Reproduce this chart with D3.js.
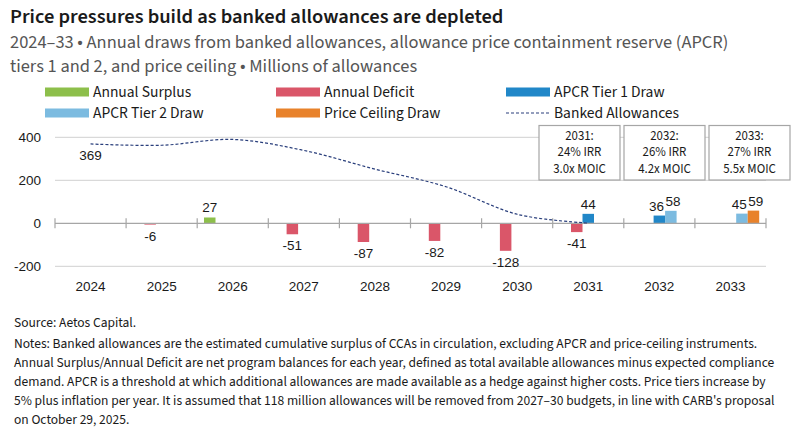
<!DOCTYPE html>
<html>
<head>
<meta charset="utf-8">
<script src="https://cdn.jsdelivr.net/npm/d3@7"></script>
<style>
  body { margin: 0; background: #fff; }
  svg { display: block; }
  .txt { font-family: "Source Sans Pro", "Source Sans 3", Lato, sans-serif; }
  .num { font-family: "Liberation Sans", Arial, sans-serif; }
</style>
</head>
<body>
<svg id="chart" width="804" height="430"></svg>
<script>
// ---- data ----
var years = ['2024', '2025', '2026', '2027', '2028', '2029', '2030', '2031', '2032', '2033'];
var surplus = [null, null, 27, null, null, null, null, null, null, null];
var deficit = [null, -6, null, -51, -87, -82, -128, -41, null, null];
var tier1 = [null, null, null, null, null, null, null, 44, 36, null];
var tier2 = [null, null, null, null, null, null, null, null, 58, 45];
var ceiling = [null, null, null, null, null, null, null, null, null, 59];
var banked = [369, 363, 390, 339, 252, 170, 42, 1];
var yTicks = [-200, 0, 200, 400];

var seriesNames = ['Annual Surplus', 'Annual Deficit', 'APCR Tier 1 Draw', 'APCR Tier 2 Draw', 'Price Ceiling Draw'];
var seriesValues = [surplus, deficit, tier1, tier2, ceiling];
var seriesColors = ['#8dbf4b', '#da5669', '#2187c8', '#7cbbe0', '#e8822b'];
var lineName = 'Banked Allowances';
var lineColor = '#2a3f7c';

var boxes = [
    ['2031:', '24% IRR', '3.0x MOIC'],
    ['2032:', '26% IRR', '4.2x MOIC'],
    ['2033:', '27% IRR', '5.5x MOIC']
];

var title = 'Price pressures build as banked allowances are depleted';
var subtitle = [
    '2024\u201333 \u2022 Annual draws from banked allowances, allowance price containment reserve (APCR)',
    'tiers 1 and 2, and price ceiling \u2022 Millions of allowances'
];
var source = 'Source: Aetos Capital.';
var notes = [
    'Notes: Banked allowances are the estimated cumulative surplus of CCAs in circulation, excluding APCR and price-ceiling instruments.',
    'Annual Surplus/Annual Deficit are net program balances for each year, defined as total available allowances minus expected compliance',
    'demand. APCR is a threshold at which additional allowances are made available as a hedge against higher costs. Price tiers increase by',
    '5% plus inflation per year. It is assumed that 118 million allowances will be removed from 2027\u201330 budgets, in line with CARB\'s proposal',
    'on October 29, 2025.'
];

// ---- layout ----
var svg = d3.select('#chart');
var plotL = 55, plotR = 766, plotT = 137.3, plotB = 266.3;

var x = d3.scaleBand().domain(years).range([plotL, plotR]);
var x1 = d3.scaleBand().domain(seriesNames).range([6.8, x.bandwidth() - 6.8]);
var y = d3.scaleLinear().domain([-200, 400]).range([plotB, plotT]);

// header
svg.append('text').attr('class', 'txt')
    .attr('x', 10).attr('y', 23)
    .attr('font-size', 20.5).attr('font-weight', 600).attr('fill', '#1a1a1a')
    .text(title);

svg.selectAll('.sub').data(subtitle).enter().append('text')
    .attr('class', 'txt sub')
    .attr('x', 10).attr('y', function(d, i){ return 48.3 + i * 23.4; })
    .attr('font-size', 18.4).attr('fill', '#555')
    .text(function(d){ return d; });

// legend
var legCols = [45, 276, 506], legRows = [92, 113];
var legItems = seriesNames.concat([lineName]);
var leg = svg.selectAll('.leg').data(legItems).enter().append('g')
    .attr('class', 'leg')
    .attr('transform', function(d, i){
        return 'translate(' + legCols[i % 3] + ',' + legRows[Math.floor(i / 3)] + ')';
    });
leg.each(function(d, i){
    var g = d3.select(this);
    if(i < seriesNames.length)
    {
        g.append('rect').attr('x', 0).attr('y', -4.5).attr('width', 44).attr('height', 9)
            .attr('fill', seriesColors[i]);
    }
    else
    {
        g.append('line').attr('x1', 0).attr('x2', 44).attr('y1', 0).attr('y2', 0)
            .attr('stroke', lineColor).attr('stroke-width', 1.2).attr('stroke-dasharray', '3,2');
    }
    g.append('text').attr('class', 'txt')
        .attr('x', 48).attr('y', 5)
        .attr('font-size', 15.5).attr('fill', '#1a1a1a')
        .text(d);
});

// gridlines
svg.selectAll('.grid').data(yTicks.filter(function(t){ return t !== 0; })).enter().append('line')
    .attr('x1', plotL).attr('x2', plotR)
    .attr('y1', function(d){ return y(d); }).attr('y2', function(d){ return y(d); })
    .attr('stroke', '#d0d0d0').attr('stroke-width', 1);

// y labels
svg.selectAll('.ylab').data(yTicks).enter().append('text')
    .attr('class', 'num')
    .attr('x', 41).attr('y', function(d){ return y(d); }).attr('dy', '0.36em')
    .attr('text-anchor', 'end').attr('font-size', 13.5).attr('fill', '#1a1a1a')
    .text(function(d){ return String(d); });

// annotation boxes
var boxLeft = 539, boxW = 81, boxGap = 4, boxTop = 125.5, boxH = 54.5;
var bx = svg.selectAll('.box').data(boxes).enter().append('g')
    .attr('transform', function(d, i){ return 'translate(' + (boxLeft + i * (boxW + boxGap)) + ',' + boxTop + ')'; });
bx.append('rect').attr('width', boxW).attr('height', boxH)
    .attr('fill', '#fff').attr('stroke', '#a6a6a6').attr('stroke-width', 1.2);
bx.selectAll('text').data(function(d){ return d; }).enter().append('text')
    .attr('class', 'txt')
    .attr('x', boxW / 2).attr('y', function(d, i){ return 14.5 + i * 16.3; })
    .attr('text-anchor', 'middle').attr('font-size', 12.8).attr('fill', '#1a1a1a')
    .text(function(d){ return d; });

// bars
var groups = svg.selectAll('.yr').data(years).enter().append('g')
    .attr('transform', function(d){ return 'translate(' + x(d) + ',0)'; });
var cells = function(d, i){
    var list = seriesNames.map(function(s, k){ return {s: s, k: k, v: seriesValues[k][i]}; })
        .filter(function(o){ return o.v !== null; });
    // neighbouring positive bars: push their labels apart at the shared edge
    list.forEach(function(o, j){
        var prev = list[j - 1], next = list[j + 1];
        o.side = 'mid';
        if(o.v > 0 && next && next.v > 0 && next.k === o.k + 1) o.side = 'left';
        if(o.v > 0 && prev && prev.v > 0 && prev.k === o.k - 1) o.side = 'right';
    });
    return list;
};
groups.selectAll('rect').data(cells)
    .enter().append('rect')
    .attr('x', function(o){ return x1(o.s); })
    .attr('width', x1.bandwidth())
    .attr('y', function(o){ return y(Math.max(0, o.v)); })
    .attr('height', function(o){ return Math.abs(y(o.v) - y(0)); })
    .attr('fill', function(o){ return seriesColors[o.k]; });
groups.selectAll('.vlab').data(cells)
    .enter().append('text')
    .attr('class', 'num')
    .attr('x', function(o){
        if(o.side === 'left') return x1(o.s) + x1.bandwidth() - 1;
        if(o.side === 'right') return x1(o.s) + 0.5;
        return x1(o.s) + x1.bandwidth() / 2;
    })
    .attr('y', function(o){ return o.v >= 0 ? y(o.v) - 5 : y(o.v) + 16; })
    .attr('text-anchor', function(o){
        return o.side === 'left' ? 'end' : (o.side === 'right' ? 'start' : 'middle');
    })
    .attr('font-size', 13.5).attr('fill', '#1a1a1a')
    .text(function(o){ return String(o.v); });

// zero axis with ticks at band edges
svg.append('line').attr('x1', plotL).attr('x2', plotR).attr('y1', y(0)).attr('y2', y(0))
    .attr('stroke', '#a6a6a6').attr('stroke-width', 1.2);
var edges = years.map(function(d){ return x(d); }).concat([plotR]);
svg.selectAll('.tk').data(edges).enter().append('line')
    .attr('x1', function(d){ return d; }).attr('x2', function(d){ return d; })
    .attr('y1', y(0) - 5).attr('y2', y(0) + 5)
    .attr('stroke', '#a6a6a6').attr('stroke-width', 1.2);

// x labels
svg.selectAll('.xlab').data(years).enter().append('text')
    .attr('class', 'num')
    .attr('x', function(d){ return x(d) + x.bandwidth() / 2; }).attr('y', 291)
    .attr('text-anchor', 'middle').attr('font-size', 13.5).attr('fill', '#1a1a1a')
    .text(function(d){ return d; });

// banked allowances line
var line = d3.line()
    .x(function(d, i){ return x(years[i]) + x.bandwidth() / 2; })
    .y(function(d){ return y(d); })
    .curve(d3.curveCatmullRom.alpha(0));
svg.append('path').datum(banked)
    .attr('d', line).attr('fill', 'none')
    .attr('stroke', lineColor).attr('stroke-width', 1.2).attr('stroke-dasharray', '3,2');
svg.append('text').attr('class', 'num')
    .attr('x', x(years[0]) + x.bandwidth() / 2).attr('y', y(banked[0]) + 16)
    .attr('text-anchor', 'middle').attr('font-size', 13.5).attr('fill', '#1a1a1a')
    .text(String(banked[0]));

// footer
svg.append('text').attr('class', 'txt')
    .attr('x', 14).attr('y', 327).attr('font-size', 13.5).attr('fill', '#1a1a1a')
    .text(source);
svg.selectAll('.note').data(notes).enter().append('text')
    .attr('class', 'txt note')
    .attr('x', 14).attr('y', function(d, i){ return 348 + i * 19; })
    .attr('font-size', 13.5).attr('fill', '#1a1a1a')
    .text(function(d){ return d; });
</script>
</body>
</html>
